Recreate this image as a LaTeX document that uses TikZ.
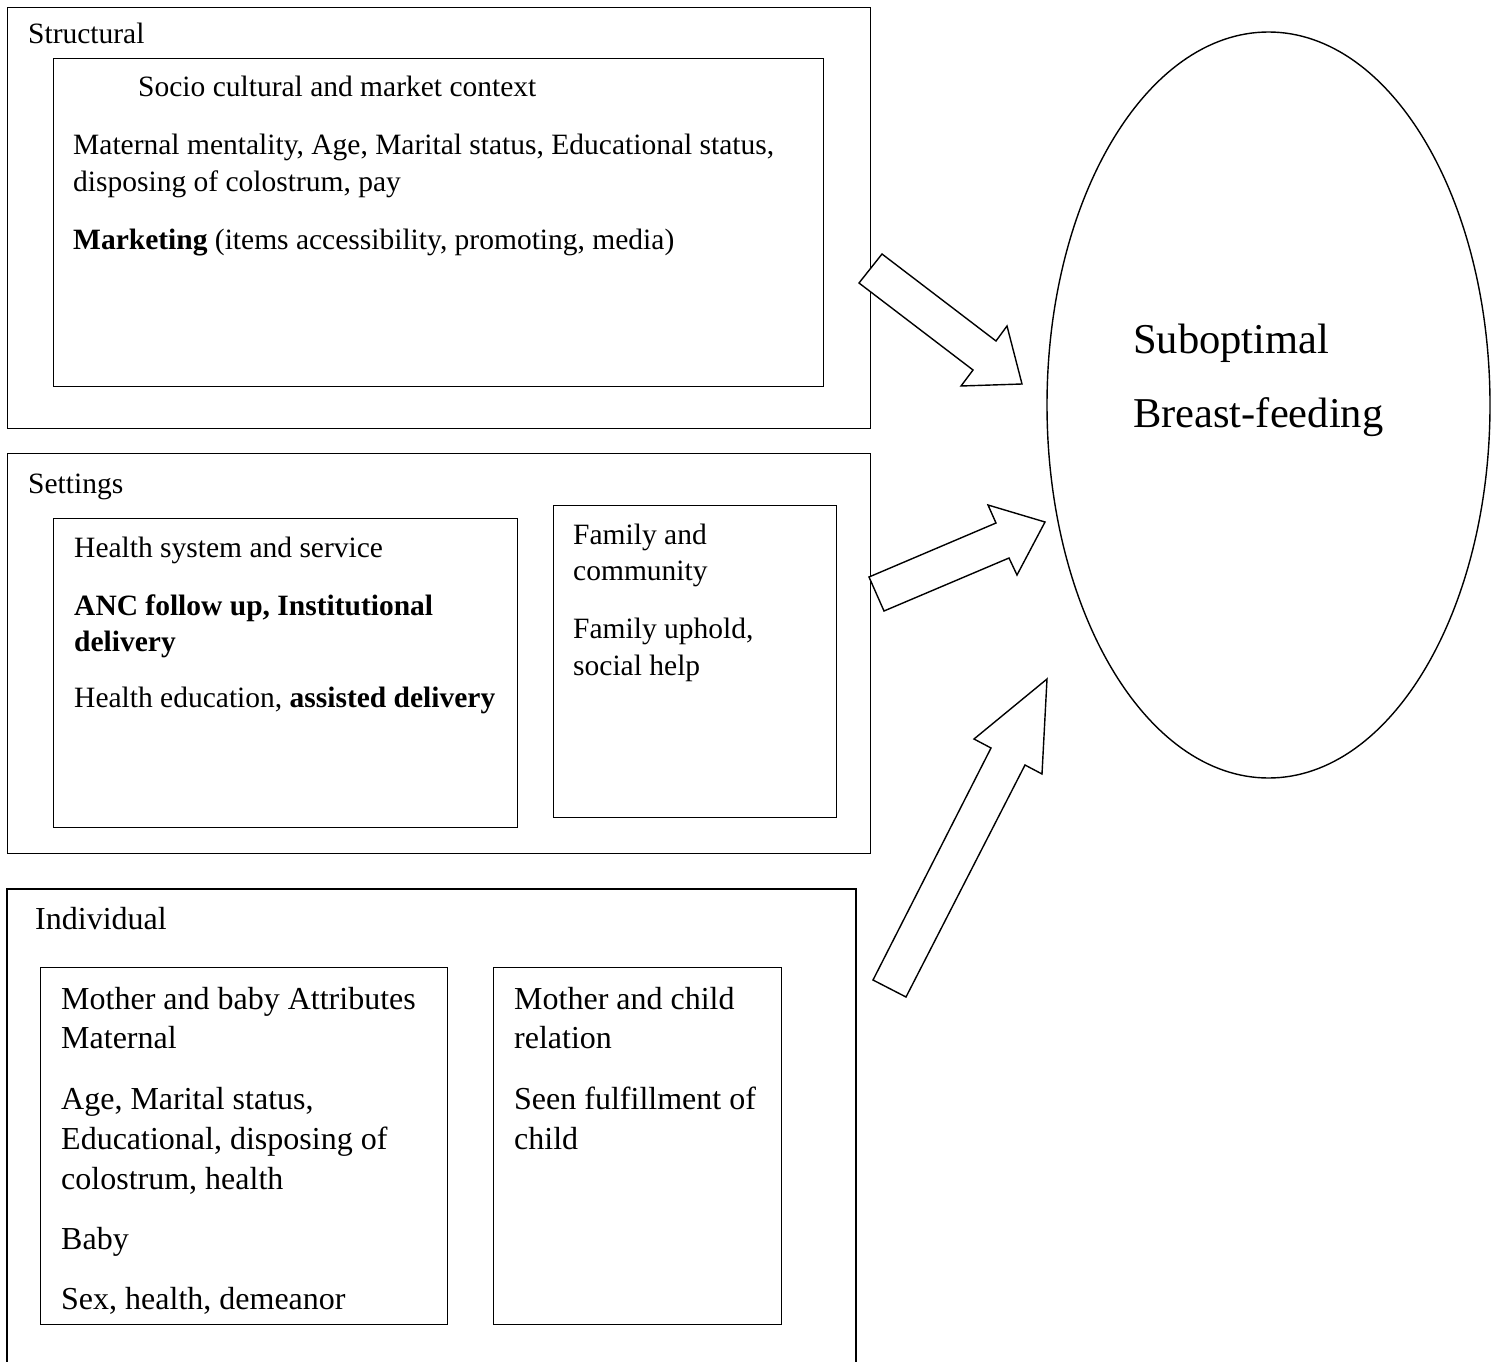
\documentclass[tikz,border=0pt]{standalone}
\usepackage{fontspec}
\setmainfont{Liberation Serif}
\usetikzlibrary{shapes.geometric}
\tikzset{
  frame/.style={draw, line width=1.4pt, inner sep=0pt, anchor=north west},
  blockarrow/.style={draw, line width=1.4pt, line join=miter, fill=white},
  smalltxt/.style={anchor=base west, inner sep=0pt, font=\fontsize{29.5}{36}\selectfont},
  bigtxt/.style={anchor=base west, inner sep=0pt, font=\fontsize{32}{39}\selectfont},
  hugetxt/.style={anchor=base west, inner sep=0pt, font=\fontsize{42.5}{50}\selectfont},
}
\begin{document}
\begin{tikzpicture}[x=1pt, y=-1pt]
\useasboundingbox (0,0) rectangle (1499,1362);
% Structural
\node (structural) [frame, minimum width=863pt, minimum height=421pt] at (7,7) {};
\node (socio) [frame, minimum width=770pt, minimum height=328pt] at (53,58) {};
\node (t1) [smalltxt] at (28,44) {Structural};
\node (t2) [smalltxt] at (138,97) {Socio cultural and market context};
\node (t3) [smalltxt] at (73,154) {Maternal mentality, Age, Marital status, Educational status,};
\node (t4) [smalltxt] at (73,191) {disposing of colostrum, pay};
\node (t5) [smalltxt] at (73,249) {\textbf{Marketing} (items accessibility, promoting, media)};
% Settings
\node (settings) [frame, minimum width=863pt, minimum height=400pt] at (7,453) {};
\node (health) [frame, minimum width=464pt, minimum height=309pt] at (53,518) {};
\node (family) [frame, minimum width=283pt, minimum height=312pt] at (553,505) {};
\node (t6) [smalltxt] at (28,493) {Settings};
\node (t7) [smalltxt] at (74,557) {Health system and service};
\node (t8) [smalltxt] at (74,615) {\textbf{ANC follow up, Institutional}};
\node (t9) [smalltxt] at (74,651) {\textbf{delivery}};
\node (t10) [smalltxt] at (74,707) {Health education, \textbf{assisted delivery}};
\node (t11) [smalltxt] at (573,544) {Family and};
\node (t12) [smalltxt] at (573,580) {community};
\node (t13) [smalltxt] at (573,638) {Family uphold,};
\node (t14) [smalltxt] at (573,675) {social help};
% Individual
\draw[line width=1.4pt] (7,1362) -- (7,889) -- (856,889) -- (856,1362);
\node (attrib) [frame, minimum width=407pt, minimum height=357pt] at (40,967) {};
\node (relation) [frame, minimum width=288pt, minimum height=357pt] at (493,967) {};
\node (t15) [bigtxt] at (35,929) {Individual};
\node (t16) [bigtxt] at (61,1009) {Mother and baby Attributes};
\node (t17) [bigtxt] at (61,1048) {Maternal};
\node (t18) [bigtxt] at (61,1109) {Age, Marital status,};
\node (t19) [bigtxt] at (61,1149) {Educational, disposing of};
\node (t20) [bigtxt] at (61,1189) {colostrum, health};
\node (t21) [bigtxt] at (61,1249) {Baby};
\node (t22) [bigtxt] at (61,1309) {Sex, health, demeanor};
\node (t23) [bigtxt] at (514,1009) {Mother and child};
\node (t24) [bigtxt] at (514,1048) {relation};
\node (t25) [bigtxt] at (514,1109) {Seen fulfillment of};
\node (t26) [bigtxt] at (514,1149) {child};
% Outcome
\node (outcome) [draw, ellipse, line width=1.4pt, minimum width=443pt, minimum height=746pt, inner sep=0pt] at (1268.5,405) {};
\node (t27) [hugetxt] at (1133,353) {Suboptimal};
\node (t28) [hugetxt] at (1133,427) {Breast-feeding};
% Block arrows
\draw[blockarrow] (882,254) -- (859,283) -- (973,370) -- (961,386) -- (1022,384) -- (1007,326) -- (996,341) -- cycle;
\draw[blockarrow] (869,577) -- (884,611) -- (1009,558) -- (1017,575) -- (1045,522) -- (988,505) -- (996,523) -- cycle;
\draw[blockarrow] (873,980) -- (906,997) -- (1025,765) -- (1042,774) -- (1047,679) -- (974,739) -- (991,748) -- cycle;
\end{tikzpicture}
\end{document}
